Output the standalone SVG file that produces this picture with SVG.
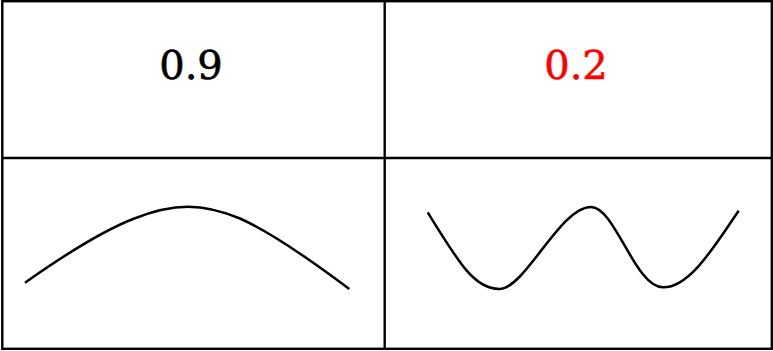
<svg xmlns="http://www.w3.org/2000/svg" width="773" height="351" viewBox="0 0 773 351">
<style>
.grid{fill:none;stroke:#000;stroke-width:2.4}
.curve{fill:none;stroke:#000;stroke-width:2.5}
.val{font-family:"DejaVu Serif","Liberation Serif",serif;font-size:40px;text-anchor:middle;stroke-width:0.6}
</style>
<rect width="773" height="351" fill="#fff"/>
<g id="table">
<rect class="grid" x="2.3" y="1.2" width="769.5" height="347.6"/>
<line class="grid" x1="384.7" y1="1" x2="384.7" y2="349"/>
<line class="grid" x1="2" y1="158" x2="772" y2="158"/>
</g>
<g id="cell-top-left">
<text class="val" x="191" y="79" fill="#000" stroke="#000">0.9</text>
</g>
<g id="cell-top-right">
<text class="val" x="576" y="79" fill="#ff0000" stroke="#ff0000">0.2</text>
</g>
<g id="cell-bottom-left">
<path class="curve" d="M25,282.7 C60,258 100,232 133,219 C155,210 172,206.7 188.3,206.7 C205,206.7 222,211 240,218.5 C268,231 300,252 349.3,289"/>
</g>
<g id="cell-bottom-right">
<path class="curve" d="M427.7,212.3 C460,265 475,289 499.3,289 C525,289 560,207 591,207 C615,207 635,287 662.7,287.3 C690,288 715,245 738.7,210.7"/>
</g>
</svg>
